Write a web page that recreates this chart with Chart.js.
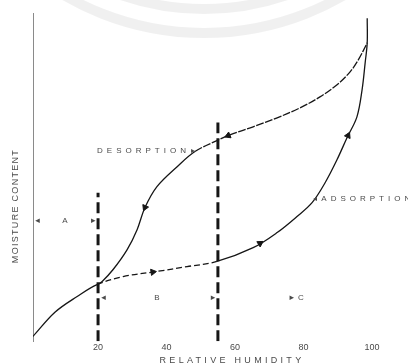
<!DOCTYPE html>
<html><head><meta charset="utf-8">
<style>html,body{margin:0;padding:0;background:#fff}#wrap{width:408px;height:364px;position:relative}</style>
</head><body><div id="wrap"><canvas id="c" width="408" height="364"></canvas></div>
<script src="https://cdn.jsdelivr.net/npm/chart.js@4"></script>
<script>
// ---- data (RH %, moisture content in relative units) ----
const xTicks = [20, 40, 60, 80, 100];
const adsRH = [1, 7.4, 13.9, 19.7, 27.3, 37.2, 46, 54.7, 65.3, 72.3, 78.1, 82.5, 86.3, 89.8, 92.7, 95.6, 97.1, 98, 98.6, 98.6];
const adsM  = [0, 7.5, 12.4, 16.1, 18.6, 20.2, 21.7, 23.3, 27.6, 32.3, 37.3, 41.6, 47.8, 55, 61.8, 68.3, 76.7, 85.1, 91.3, 99];
const desRH = [19.7, 21.2, 24.4, 28.5, 31.4, 33.7, 37.2, 43.1, 48.3, 54.7, 58.5, 65.3, 72.3, 79, 84.8, 89.8, 93.6, 96, 98.6];
const desM  = [16.1, 17.1, 20.8, 27, 33.2, 40.1, 46.6, 52.8, 57.5, 60.9, 62.7, 65.2, 68, 71.1, 74.5, 78.3, 82.3, 86, 91.3];
const dividerRH  = [20, 55];
const dividerTop = [44.7, 66.5];
const dividerBottom = -1.5;
const adsArrowRH = [36, 67.3, 93];
const desArrowRH = [58, 33.7];
const curveLabels = ['DESORPTION', 'ADSORPTION'];
const curveLabelRH = [19.7, 85.2];
const curveLabelM  = [57.8, 42.9];
const regionLabels = ['A', 'B', 'C'];
const regionRH = [10.3, 37.2, 79.2];
const regionM  = [36, 12, 12];
const yTitle = 'MOISTURE CONTENT';
const xTitle = 'RELATIVE HUMIDITY';

function interp(xs, ys, x) {
  for (let i = 0; i < xs.length - 1; i++) {
    if (x >= xs[i] && x <= xs[i + 1]) {
      const t = (x - xs[i]) / ((xs[i + 1] - xs[i]) || 1);
      return ys[i] + t * (ys[i + 1] - ys[i]);
    }
  }
  return ys[ys.length - 1];
}
const ink = '#161616';
const grey = '#4a4a4a';

function arrowDataset(xs, ys, at, dir) {
  return {
    type: 'line', showLine: false,
    data: at.map(r => ({ x: r, y: interp(xs, ys, r) })),
    pointStyle: 'triangle', pointRadius: 3.6, pointHoverRadius: 3.6,
    backgroundColor: ink, borderColor: ink, borderWidth: 1,
    rotation: (ctx) => {
      const ch = ctx.chart, sx = ch.scales.x, sy = ch.scales.y;
      if (!sx || !sy || !ctx.raw) return 0;
      const r = ctx.raw.x, d = 1.2 * dir;
      const x0 = sx.getPixelForValue(r - d), y0 = sy.getPixelForValue(interp(xs, ys, r - d));
      const x1 = sx.getPixelForValue(r + d), y1 = sy.getPixelForValue(interp(xs, ys, r + d));
      return Math.atan2(x1 - x0, -(y1 - y0)) * 180 / Math.PI;
    }
  };
}

const datasets = [
  {
    label: 'Adsorption',
    data: adsRH.map((r, i) => ({ x: r, y: adsM[i] })),
    borderColor: ink, borderWidth: 1.3, pointRadius: 0, tension: 0.35,
    segment: { borderDash: (c) => (c.p0.parsed.x >= 19.6 && c.p1.parsed.x <= 54.8) ? [6, 3] : undefined }
  },
  {
    label: 'Desorption',
    data: desRH.map((r, i) => ({ x: r, y: desM[i] })),
    borderColor: ink, borderWidth: 1.3, pointRadius: 0, tension: 0.35,
    segment: { borderDash: (c) => (c.p0.parsed.x >= 48) ? [8, 1.5] : undefined }
  },
  arrowDataset(adsRH.slice(0, -1), adsM.slice(0, -1), adsArrowRH, 1),
  arrowDataset(desRH, desM, desArrowRH, -1)
];
dividerRH.forEach((r, i) => {
  datasets.push({
    label: 'divider' + i,
    data: [{ x: r, y: dividerBottom }, { x: r, y: dividerTop[i] }],
    borderColor: ink, borderWidth: 3, borderDash: [11, 5], pointRadius: 0, tension: 0
  });
});

const textPlugin = {
  id: 'texts',
  beforeDraw(chart) {
    const c = chart.ctx;
    c.save();
    c.strokeStyle = 'rgba(0,0,0,0.06)';
    c.lineWidth = 10;
    c.beginPath(); c.arc(204, -245, 278, 0, Math.PI); c.stroke();
    c.beginPath(); c.arc(204, -245, 254, 0, Math.PI); c.stroke();
    c.restore();
  },
  afterDraw(chart) {
    const c = chart.ctx, sx = chart.scales.x, sy = chart.scales.y;
    c.save();
    c.fillStyle = grey;
    c.textBaseline = 'middle';
    // curve labels
    c.font = '8px "Liberation Sans"';
    c.letterSpacing = '4px';
    c.textAlign = 'left';
    c.fillText(curveLabels[0], sx.getPixelForValue(curveLabelRH[0]), sy.getPixelForValue(curveLabelM[0]));
    c.letterSpacing = '0px';
    c.fillText('\u25B8', sx.getPixelForValue(curveLabelRH[0]) + 94, sy.getPixelForValue(curveLabelM[0]));
    c.fillText('\u25C2', sx.getPixelForValue(curveLabelRH[1]) - 8, sy.getPixelForValue(curveLabelM[1]));
    c.letterSpacing = '4px';
    c.fillText(curveLabels[1], sx.getPixelForValue(curveLabelRH[1]), sy.getPixelForValue(curveLabelM[1]));
    // region labels
    c.letterSpacing = '0px';
    c.font = '8px "Liberation Sans"';
    c.textAlign = 'center';
    regionLabels.forEach((t, i) => {
      c.fillText(t, sx.getPixelForValue(regionRH[i]), sy.getPixelForValue(regionM[i]));
    });
    c.font = 'bold 9px "DejaVu Sans"';
    c.fillText('\u25C2', sx.getPixelForValue(2.3), sy.getPixelForValue(regionM[0]));
    c.fillText('\u25B8', sx.getPixelForValue(18.6), sy.getPixelForValue(regionM[0]));
    c.fillText('\u25C2', sx.getPixelForValue(21.6), sy.getPixelForValue(regionM[1]));
    c.fillText('\u25B8', sx.getPixelForValue(53.6), sy.getPixelForValue(regionM[1]));
    c.fillText('\u25B8', sx.getPixelForValue(76.6), sy.getPixelForValue(regionM[2]));
    // axis titles
    c.font = '9px "Liberation Sans"';
    c.letterSpacing = '1.3px';
    c.save();
    c.translate(16, 206);
    c.rotate(-Math.PI / 2);
    c.fillText(yTitle, 0, 0);
    c.restore();
    c.letterSpacing = '3.3px';
    c.fillText(xTitle, 232, 361);
    c.restore();
  }
};

new Chart(document.getElementById('c'), {
  type: 'line',
  data: { datasets },
  options: {
    responsive: false, animation: false, devicePixelRatio: 1,
    layout: { padding: { left: 33, right: 36, top: 13, bottom: 10 } },
    plugins: { legend: { display: false }, tooltip: { enabled: false }, title: { display: false } },
    scales: {
      x: {
        type: 'linear', min: 1, max: 100,
        afterBuildTicks: (s) => { s.ticks = xTicks.map(v => ({ value: v })); },
        grid: { display: false, drawTicks: false },
        border: { display: false },
        ticks: { color: grey, font: { size: 9, family: 'Liberation Sans' }, padding: 1, maxRotation: 0, autoSkip: false }
      },
      y: {
        type: 'linear', min: -1.5, max: 100.6,
        grid: { display: false, drawTicks: false },
        border: { display: true, color: '#8a8a8a', width: 1, dash: [1, 2] },
        ticks: { display: false }
      }
    }
  },
  plugins: [textPlugin]
});
</script>
</body></html>
